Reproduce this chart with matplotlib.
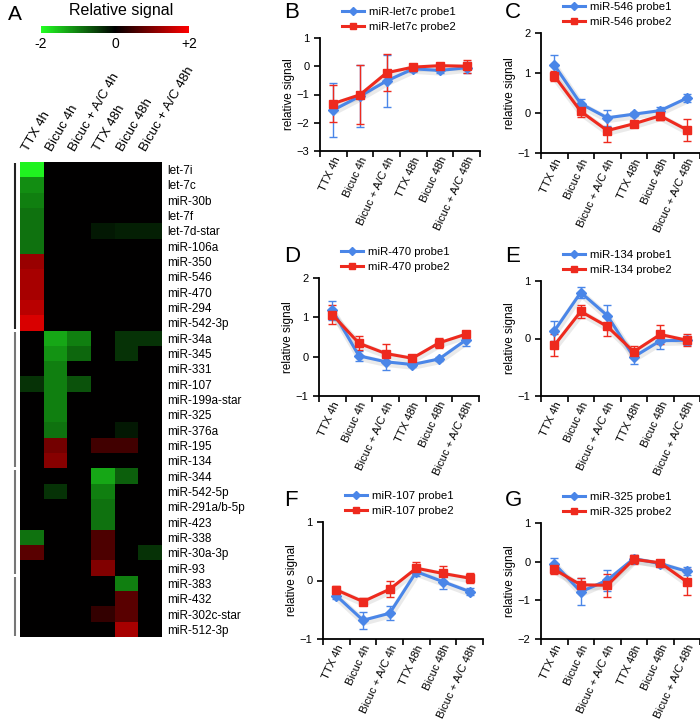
import numpy as np
import matplotlib
matplotlib.use("Agg")
import matplotlib.pyplot as plt
from matplotlib.colors import LinearSegmentedColormap
from matplotlib.lines import Line2D

plt.rcParams["font.family"] = ["Liberation Sans", "DejaVu Sans"]

# ---- heatmap data (panel A) -------------------------------------------------
conditions = ["TTX 4h", "Bicuc 4h", "Bicuc + A/C 4h", "TTX 48h", "Bicuc 48h", "Bicuc + A/C 48h"]
mirnas = ["let-7i", "let-7c", "miR-30b", "let-7f", "let-7d-star", "miR-106a", "miR-350",
          "miR-546", "miR-470", "miR-294", "miR-542-3p",
          "miR-34a", "miR-345", "miR-331", "miR-107", "miR-199a-star", "miR-325",
          "miR-376a", "miR-195", "miR-134",
          "miR-344", "miR-542-5p", "miR-291a/b-5p", "miR-423", "miR-338", "miR-30a-3p", "miR-93",
          "miR-383", "miR-432", "miR-302c-star", "miR-512-3p"]
heat = [
    [-1.9, 0, 0, 0, 0, 0],
    [-1.1, 0, 0, 0, 0, 0],
    [-1.0, 0, 0, 0, 0, 0],
    [-0.9, 0, 0, 0, 0, 0],
    [-0.9, 0, 0, -0.2, -0.25, -0.25],
    [-0.9, 0, 0, 0, 0, 0],
    [1.2, 0, 0, 0, 0, 0],
    [1.3, 0, 0, 0, 0, 0],
    [1.3, 0, 0, 0, 0, 0],
    [1.45, 0, 0, 0, 0, 0],
    [1.7, 0, 0, 0, 0, 0],
    [0, -1.3, -1.0, 0, -0.4, -0.4],
    [0, -1.15, -0.8, 0, -0.4, 0],
    [0, -1.0, 0, 0, 0, 0],
    [-0.4, -1.0, -0.65, 0, 0, 0],
    [0, -1.0, 0, 0, 0, 0],
    [0, -1.0, 0, 0, 0, 0],
    [0, -0.9, 0, 0, -0.2, 0],
    [0, 0.9, 0, 0.5, 0.5, 0],
    [0, 1.05, 0, 0, 0, 0],
    [0, 0, 0, -1.3, -0.75, 0],
    [0, -0.4, 0, -1.0, 0, 0],
    [0, 0, 0, -0.9, 0, 0],
    [0, 0, 0, -0.9, 0, 0],
    [-0.9, 0, 0, 0.6, 0, 0],
    [0.7, 0, 0, 0.6, 0, -0.4],
    [0, 0, 0, 1.0, 0, 0],
    [0, 0, 0, 0, -1.0, 0],
    [0, 0, 0, 0, 0.7, 0],
    [0, 0, 0, 0.4, 0.7, 0],
    [0, 0, 0, 0, 1.3, 0],
]
groups = [11, 9, 7, 4]   # rows per bracket

# ---- line panels (B-G): mean, error ------------------------------------------
panels = {
    "B": dict(name="miR-let7c", yt=[-3, -2, -1, 0, 1],
              p1=[-1.55, -1.06, -0.52, -0.09, -0.15, -0.05], e1=[0.95, 1.1, 0.92, 0.12, 0.1, 0.2],
              p2=[-1.32, -1.01, -0.23, -0.03, 0.02, 0.0], e2=[0.66, 1.05, 0.65, 0.1, 0.08, 0.23]),
    "C": dict(name="miR-546", yt=[-1, 0, 1, 2],
              p1=[1.2, 0.23, -0.12, -0.03, 0.06, 0.37], e1=[0.25, 0.12, 0.2, 0.05, 0.1, 0.1],
              p2=[0.93, 0.04, -0.44, -0.27, -0.07, -0.42], e2=[0.12, 0.15, 0.28, 0.07, 0.1, 0.27]),
    "D": dict(name="miR-470", yt=[-1, 0, 1, 2],
              p1=[1.18, 0.02, -0.13, -0.2, -0.06, 0.42], e1=[0.24, 0.13, 0.2, 0.06, 0.05, 0.15],
              p2=[1.07, 0.34, 0.08, -0.04, 0.35, 0.57], e2=[0.25, 0.18, 0.25, 0.05, 0.12, 0.06]),
    "E": dict(name="miR-134", yt=[-1, 0, 1],
              p1=[0.13, 0.8, 0.4, -0.32, -0.04, -0.03], e1=[0.17, 0.1, 0.19, 0.12, 0.15, 0.08],
              p2=[-0.12, 0.47, 0.21, -0.23, 0.07, -0.03], e2=[0.19, 0.11, 0.17, 0.1, 0.17, 0.1]),
    "F": dict(name="miR-107", yt=[-1, 0, 1],
              p1=[-0.26, -0.68, -0.56, 0.15, -0.02, -0.19], e1=[0.05, 0.15, 0.12, 0.08, 0.12, 0.06],
              p2=[-0.16, -0.36, -0.15, 0.21, 0.12, 0.04], e2=[0.07, 0.06, 0.14, 0.1, 0.13, 0.08]),
    "G": dict(name="miR-325", yt=[-2, -1, 0, 1],
              p1=[-0.05, -0.78, -0.48, 0.08, -0.05, -0.25], e1=[0.14, 0.35, 0.27, 0.1, 0.1, 0.1],
              p2=[-0.2, -0.6, -0.61, 0.06, -0.03, -0.52], e2=[0.13, 0.18, 0.3, 0.12, 0.08, 0.33]),
}
# axes boxes in pixels: left, top, right, bottom
boxes = {"B": (320, 38, 480, 151), "C": (541, 33, 700, 153),
         "D": (319, 278, 479, 396), "E": (541, 281, 700, 396),
         "F": (323, 522, 483, 639), "G": (541, 523, 700, 639)}
letter_pos = {"B": (292, 13), "C": (513, 12), "D": (292, 257),
              "E": (513, 256), "F": (291, 501), "G": (513, 501)}

W, H = 700, 725
BLUE = "#4a86e8"
RED = "#ee2a1e"

def px_axes(fig, l, t, r, b):
    return fig.add_axes([l / W, 1 - b / H, (r - l) / W, (b - t) / H])

fig = plt.figure(figsize=(7, 7.25), dpi=100)

# ---- panel A -----------------------------------------------------------------
cmap = LinearSegmentedColormap.from_list("gkr", ["#22ff22", "#000000", "#ff0000"])
axh = px_axes(fig, 8, 162, 162, 637)
im = axh.imshow(np.array(heat), cmap=cmap, vmin=-2, vmax=2, aspect="auto",
                interpolation="nearest")
axh.set_yticks(range(len(mirnas)), mirnas, fontsize=8.5)
axh.yaxis.tick_right()
axh.set_xticks(np.arange(len(conditions)) - 0.05)
axh.set_xticklabels(conditions, rotation=60, ha="left", va="bottom",
                    rotation_mode="anchor", fontsize=9.6)
axh.xaxis.tick_top()
axh.tick_params(axis="x", length=0, pad=6)
axh.tick_params(axis="y", length=0, pad=4)
for s in axh.spines.values():
    s.set_visible(False)
start = -0.5
for i, n in enumerate(groups):
    axh.plot([-0.7, -0.7], [start + 0.08, start + n - 0.08], color="#222" if i == 0 else "#777",
             lw=1.5, clip_on=False, solid_capstyle="butt")
    start += n

cax = px_axes(fig, 41, 26, 189, 33)
cb = fig.colorbar(im, cax=cax, orientation="horizontal")
cb.outline.set_visible(False)
cb.set_ticks([-2, 0, 2], labels=["-2", "0", "+2"])
cax.tick_params(length=0, labelsize=10, pad=3)
fig.text(121 / W, 1 - 10 / H, "Relative signal", ha="center", va="center", fontsize=11.5)
fig.text(15 / W, 1 - 14 / H, "A", ha="center", va="center", fontsize=15)

# ---- panels B-G --------------------------------------------------------------
x = np.arange(6) + 0.5
for key, d in panels.items():
    l, t, r, b = boxes[key]
    ax = px_axes(fig, l, t, r, b)
    for vals, err, col, mk, ms in [(d["p1"], d["e1"], BLUE, "D", 5),
                                   (d["p2"], d["e2"], RED, "s", 5.5)]:
        ax.plot(x + 0.03, np.array(vals) - 0.015 * (d["yt"][-1] - d["yt"][0]),
                color="#999", lw=5, alpha=0.2, solid_capstyle="round")
        ax.errorbar(x, vals, yerr=err, color=col, lw=2.2, marker=mk, ms=ms,
                    elinewidth=1.0, capsize=3, capthick=1.0)
    ax.set_xlim(0, 6)
    ax.set_ylim(d["yt"][0], d["yt"][-1])
    ax.set_yticks(d["yt"])
    ax.set_xticks(range(7), [""] * 7)
    ax.set_xticks(x, conditions, minor=True)
    ax.tick_params(axis="x", which="minor", length=0, pad=3)
    ax.tick_params(which="major", length=4, width=1.2, labelsize=8, direction="out")
    for lab in ax.get_xticklabels(minor=True):
        lab.set_rotation(65)
        lab.set_ha("right")
        lab.set_rotation_mode("anchor")
        lab.set_fontsize(8.1)
    for s in ["top", "right"]:
        ax.spines[s].set_visible(False)
    for s in ["left", "bottom"]:
        ax.spines[s].set_linewidth(1.3)
    ax.set_ylabel("relative signal", fontsize=8.5, labelpad=1.5)
    handles = [Line2D([], [], color=BLUE, lw=2.2, marker="D", ms=4.5),
               Line2D([], [], color=RED, lw=2.2, marker="s", ms=5)]
    ax.legend(handles, [d["name"] + " probe1", d["name"] + " probe2"], loc="upper left",
              bbox_to_anchor=(22 / (r - l), 1 + 31 / (b - t)),
              frameon=False, fontsize=8.2, handlelength=1.9, handletextpad=0.5,
              borderpad=0, labelspacing=0.45, borderaxespad=0)
    lx, ly = letter_pos[key]
    fig.text(lx / W, 1 - ly / H, key, ha="center", va="center", fontsize=16)

fig.savefig("out.png", dpi=100)
